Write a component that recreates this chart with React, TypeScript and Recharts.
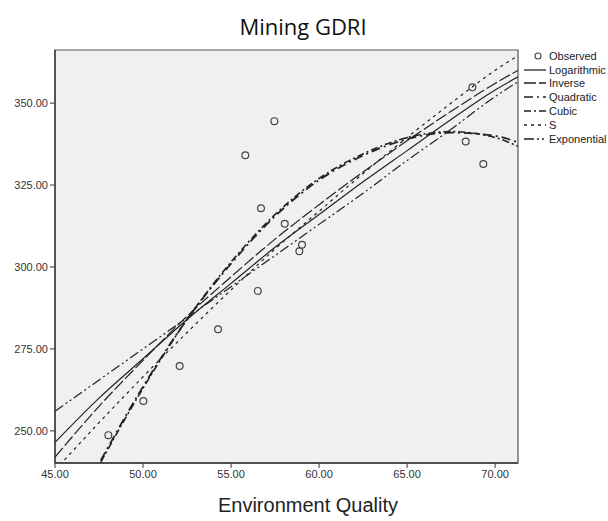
import React from 'react';
import { ComposedChart, Line, Scatter, XAxis, YAxis, ReferenceArea } from 'recharts';

// observed points
const obsX = [48.03, 50.02, 52.08, 54.26, 56.52, 56.7, 55.81, 57.46, 58.05, 58.88, 59.03, 68.33, 68.71, 69.33];
const obsY = [248.7, 259.1, 269.8, 281.0, 292.7, 317.9, 334.1, 344.5, 313.2, 304.8, 306.8, 338.3, 354.8, 331.4];

// fitted curves
const fitX = [45, 47.5, 50, 52.5, 55, 57.5, 60, 62.5, 65, 67.5, 70, 71.3];
const logY = [246.5, 260, 272, 284, 295, 306, 316, 326, 335.5, 345, 354, 358];
const invY = [242, 257.5, 271.5, 285, 297, 308.5, 319, 329, 338.5, 347.5, 356, 360];
const sY = [238, 252.5, 266.5, 280, 293, 305.5, 317, 328.5, 339.5, 350, 360, 364.5];
const expY = [256, 265.5, 275, 284.5, 294, 303.5, 313, 322.5, 332.5, 342, 352, 356.5];

const polyX = [47.6, 50, 52.5, 55, 57.5, 60, 62.5, 65, 67.5, 70, 71.3];
const quadY = [241, 263.5, 284, 301, 315.5, 326.5, 334, 339, 341, 340, 338];
const cubicY = [240.5, 263, 284, 301.5, 316, 327, 334.5, 339.5, 341.3, 339.5, 336.8];

const xTicks = [45, 50, 55, 60, 65, 70];
const yTicks = [250, 275, 300, 325, 350];

const toPts = (xs: number[], ys: number[]) => xs.map((x, i) => ({ x, y: ys[i] }));

const series = [
  { name: 'Logarithmic', data: toPts(fitX, logY), dash: undefined, width: 1.2 },
  { name: 'Inverse', data: toPts(fitX, invY), dash: '12 3', width: 1.2 },
  { name: 'Quadratic', data: toPts(polyX, quadY), dash: '9 4 2 4', width: 1.8 },
  { name: 'Cubic', data: toPts(polyX, cubicY), dash: '7 3 2 3', width: 1.6 },
  { name: 'S', data: toPts(fitX, sY), dash: '3 4', width: 1.2 },
  { name: 'Exponential', data: toPts(fitX, expY), dash: '10 3 2 3 2 3', width: 1.2 },
];

const fmt = (v: number) => v.toFixed(2);

const Circle = (props: any) => (
  <circle cx={props.cx} cy={props.cy} r={3.4} fill="none" stroke="#444" strokeWidth={1.2} />
);

const rowStyle = { height: 13.8, display: 'flex', alignItems: 'center' };

const LegendBox = () => (
  <div style={{ position: 'absolute', left: 524, top: 49, fontFamily: 'Liberation Sans, Arial, sans-serif', fontSize: 11, color: '#222', whiteSpace: 'nowrap' }}>
    <div style={rowStyle}>
      <svg width={25} height={10}>
        <circle cx={14} cy={5} r={3} fill="none" stroke="#444" strokeWidth={1.1} />
      </svg>
      <span>Observed</span>
    </div>
    {series.map((s) => (
      <div key={s.name} style={rowStyle}>
        <svg width={25} height={10}>
          <line x1={0} y1={5} x2={22} y2={5} stroke="#222" strokeWidth={1.3} strokeDasharray={s.dash} />
        </svg>
        <span>{s.name}</span>
      </div>
    ))}
  </div>
);

export default function App() {
  return (
    <div style={{ position: 'absolute', left: 0, top: 0, width: 608, height: 521, overflow: 'hidden', background: '#fff' }}>
      <div style={{ position: 'absolute', left: 0, width: 606, top: 11, textAlign: 'center', fontFamily: 'Open Sans, sans-serif', fontSize: 22, color: '#111' }}>
        Mining GDRI
      </div>
      <div style={{ position: 'absolute', left: 0, width: 616, top: 494, textAlign: 'center', fontFamily: 'Liberation Sans, Arial, sans-serif', fontSize: 20, color: '#222' }}>
        Environment Quality
      </div>
      <ComposedChart width={608} height={521} margin={{ top: 50, right: 90, bottom: 0, left: 0 }}>
        <ReferenceArea x1={45} x2={71.3} y1={240.2} y2={366.2} fill="#f0f0f0" fillOpacity={1} stroke="#555" strokeWidth={1.2} ifOverflow="visible" />
        <XAxis
          type="number"
          dataKey="x"
          domain={[45, 71.3]}
          ticks={xTicks}
          tickFormatter={fmt}
          allowDataOverflow
          height={58}
          tickSize={5}
          tickMargin={2}
          axisLine={{ stroke: '#333', strokeWidth: 1.3 }}
          tickLine={{ stroke: '#333' }}
          tick={{ fontSize: 11, fill: '#333', fontFamily: 'Liberation Sans, Arial, sans-serif' }}
        />
        <YAxis
          type="number"
          dataKey="y"
          domain={[240.2, 366.2]}
          ticks={yTicks}
          tickFormatter={fmt}
          allowDataOverflow
          width={55}
          tickSize={5}
          tickMargin={2}
          axisLine={{ stroke: '#333', strokeWidth: 1.3 }}
          tickLine={{ stroke: '#333' }}
          tick={{ fontSize: 11, fill: '#333', fontFamily: 'Liberation Sans, Arial, sans-serif' }}
        />
        {series.map((s) => (
          <Line
            key={s.name}
            data={s.data}
            dataKey="y"
            name={s.name}
            type="monotone"
            stroke="#222"
            strokeWidth={s.width}
            strokeDasharray={s.dash}
            dot={false}
            isAnimationActive={false}
          />
        ))}
        <Scatter name="Observed" data={toPts(obsX, obsY)} dataKey="y" shape={<Circle />} isAnimationActive={false} />
      </ComposedChart>
      <LegendBox />
    </div>
  );
}
